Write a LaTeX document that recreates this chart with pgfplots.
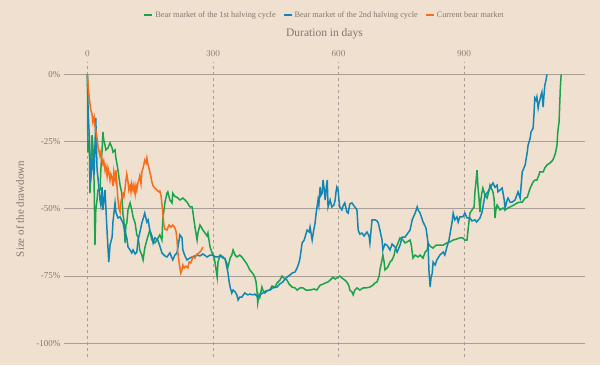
\documentclass[border=0pt]{standalone}
\usepackage{fontspec}
\setmainfont{Liberation Serif}
\usepackage{pgfplots}
\pgfplotsset{compat=1.18}
\definecolor{bg}{RGB}{240,224,208}
\definecolor{gridc}{RGB}{168,158,150}
\definecolor{txt}{RGB}{128,120,112}
\definecolor{cgreen}{RGB}{26,163,74}
\definecolor{cblue}{RGB}{18,134,178}
\definecolor{corange}{RGB}{246,110,28}
\begin{document}
\begin{tikzpicture}[x=1pt,y=1pt]
\fill[bg] (-64,-8) rectangle (536,357);
\useasboundingbox (-64,-8) rectangle (536,357);
\begin{axis}[
  at={(0,0)}, anchor=south west,
  scale only axis, width=521pt, height=295pt,
  xmin=-56, xmax=1189, ymin=-105.1, ymax=4.6,
  axis line style={draw=none},
  major tick length=0pt,
  xtick={0,300,600,900},
  xticklabel pos=upper,
  xticklabel style={font=\fontsize{9}{10}\selectfont, text=txt, yshift=1.5pt},
  ytick={-100,-75,-50,-25,0},
  yticklabels={-100\%,-75\%,-50\%,-25\%,0\%},
  yticklabel style={font=\fontsize{9}{10}\selectfont, text=txt},
  xmajorgrids, ymajorgrids,
  x grid style={gridc, line width=0.7pt, dash pattern=on 3pt off 3pt},
  y grid style={gridc, line width=0.8pt},
  legend columns=3,
  legend style={at={(axis description cs:0.5,1)}, anchor=center, yshift=47pt,
    draw=none, fill=none, font=\fontsize{8.3}{9}\selectfont, text=txt,
    /tikz/every even column/.append style={column sep=5pt}},
  legend image code/.code={\draw[#1, line width=2pt] (0pt,0pt) -- (8pt,0pt);},
  legend cell align=left,
]
\addplot[cgreen, line width=1.5pt] coordinates {
(0,0) (1,-28.9) (2,-24.4) (5,-30.7) (6,-44.2) (8,-37.4) (11,-22.6) (13,-26.3) (16,-40.4)
(18,-63.5) (20,-50.4) (23,-46.7) (25,-43.0) (30,-43.0) (32,-35.6) (35,-28.1) (37,-21.4)
(39,-24.4) (42,-26.3) (44,-28.1) (49,-27.4) (54,-25.5) (59,-27.4) (61,-28.9) (66,-28.1)
(68,-31.1) (71,-33.7) (73,-35.6) (78,-41.2) (82,-44.2) (85,-52.3) (87,-54.1) (90,-62.7)
(92,-56.0) (94,-55.3) (97,-50.4) (102,-47.8) (106,-50.4) (109,-53.0) (114,-55.3) (118,-59.7)
(121,-60.5) (125,-65.3) (130,-67.2) (133,-69.0) (137,-64.6) (142,-61.6) (149,-57.9) (154,-61.6)
(161,-62.7) (166,-61.6) (173,-59.7) (178,-61.6) (180,-54.1) (185,-47.8) (190,-44.2) (192,-43.7)
(197,-46.7) (202,-47.8) (204,-44.2) (209,-45.4) (214,-45.7) (221,-46.7) (228,-46.0) (233,-46.7)
(238,-47.5) (245,-49.3) (250,-49.3) (252,-51.2) (257,-56.8) (262,-61.6) (264,-59.0) (269,-56.0)
(276,-57.9) (286,-60.1) (288,-59.0) (293,-64.2) (298,-66.4) (303,-68.3) (305,-70.1) (310,-75.4)
(312,-69.8) (317,-67.2) (321,-67.5) (329,-68.6) (336,-71.6) (341,-68.3) (345,-67.2) (348,-65.3)
(353,-67.2) (357,-67.9) (364,-67.2) (369,-67.9) (376,-69.4) (381,-70.5) (388,-72.7) (396,-74.2)
(400,-75.4) (403,-77.2) (405,-80.2) (407,-85.0) (410,-82.0) (412,-82.8) (417,-79.1) (419,-80.2)
(424,-81.3) (429,-80.5) (436,-80.2) (441,-78.7) (448,-79.1) (453,-77.6) (458,-76.8) (460,-76.5)
(465,-75.0) (467,-75.4) (472,-76.1) (477,-76.5) (482,-78.0) (489,-79.1) (496,-79.4) (501,-80.2)
(508,-79.4) (515,-79.4) (522,-80.2) (532,-80.2) (542,-79.8) (548,-80.2) (556,-78.4) (563,-78.0)
(568,-77.6) (575,-77.2) (580,-76.5) (587,-75.4) (592,-76.1) (596,-75.7) (603,-75.0) (608,-75.7)
(615,-76.5) (620,-77.2) (625,-78.7) (627,-80.2) (632,-80.9) (635,-82.0) (639,-80.2) (644,-79.4)
(651,-80.2) (659,-79.4) (666,-79.4) (675,-79.1) (682,-78.4) (687,-77.6) (692,-77.2) (697,-75.0)
(699,-72.7) (704,-69.0) (706,-67.2) (709,-69.8) (711,-72.7) (716,-72.0) (718,-71.6) (723,-69.8)
(728,-69.0) (733,-67.2) (735,-65.3) (740,-63.5) (747,-60.8) (754,-61.6) (759,-62.7) (764,-62.3)
(771,-61.6) (774,-63.5) (776,-66.1) (778,-68.3) (783,-67.2) (790,-67.9) (795,-67.2) (802,-68.3)
(807,-66.1) (812,-65.3) (814,-62.7) (819,-63.9) (826,-64.6) (833,-63.5) (842,-63.5) (850,-63.5)
(859,-62.7) (866,-62.3) (874,-61.6) (883,-61.2) (890,-60.8) (897,-60.8) (902,-61.6) (907,-61.6)
(909,-58.6) (914,-51.6) (919,-50.4) (924,-49.3) (926,-43.7) (929,-39.3) (931,-35.6) (933,-41.2)
(936,-46.7) (938,-51.2) (940,-46.7) (943,-43.7) (945,-42.3) (950,-44.9) (955,-46.0) (960,-43.0)
(962,-41.2) (967,-43.0) (969,-43.7) (972,-46.7) (974,-53.4) (976,-50.4) (979,-48.6) (986,-50.4)
(993,-49.7) (998,-50.4) (1005,-49.7) (1010,-49.3) (1019,-48.6) (1027,-47.8) (1034,-47.5) (1039,-47.5)
(1046,-46.0) (1051,-45.7) (1055,-43.7) (1058,-42.3) (1063,-40.7) (1065,-40.0) (1069,-39.3) (1074,-39.3)
(1079,-37.4) (1081,-36.3) (1089,-36.3) (1093,-34.8) (1098,-33.7) (1105,-33.0) (1112,-31.9) (1117,-30.0)
(1120,-28.1) (1122,-26.3) (1124,-21.4) (1127,-17.7) (1129,-9.6) (1130,-5.1) (1132,0)
};
\addlegendentry{Bear market of the 1st halving cycle}
\addplot[cblue, line width=1.5pt] coordinates {
(0,0) (1,-9.6) (2,-15.1) (4,-21.4) (6,-30.0) (7,-40.4) (10,-35.6) (13,-31.9) (16,-37.4) (20,-16.2)
(23,-35.6) (25,-38.2) (30,-46.7) (32,-48.6) (35,-41.9) (37,-50.4) (42,-43.0) (47,-58.6) (51,-69.8)
(54,-63.5) (59,-60.5) (61,-54.9) (66,-47.8) (68,-51.2) (73,-53.4) (78,-53.0) (85,-55.3) (90,-58.6)
(94,-60.8) (97,-64.2) (102,-65.3) (106,-66.4) (109,-65.3) (114,-66.8) (118,-66.1) (121,-61.6)
(125,-59.0) (130,-55.3) (135,-52.7) (137,-51.6) (142,-54.9) (145,-54.1) (149,-57.9) (154,-60.1)
(157,-62.7) (161,-60.8) (168,-61.6) (173,-63.8) (178,-66.4) (185,-67.5) (190,-67.9) (197,-66.4)
(204,-69.0) (209,-67.2) (214,-66.4) (219,-61.6) (221,-59.7) (226,-60.8) (228,-65.3) (233,-67.5)
(238,-69.0) (245,-68.3) (250,-67.9) (257,-67.5) (262,-67.2) (269,-67.5) (276,-66.8) (286,-67.9)
(293,-67.2) (300,-67.2) (305,-67.9) (312,-67.9) (317,-67.5) (324,-68.3) (329,-68.6) (333,-71.6)
(336,-73.9) (338,-76.5) (341,-79.1) (345,-81.3) (348,-80.2) (353,-80.9) (357,-82.0) (360,-83.9)
(364,-82.8) (369,-82.8) (376,-81.3) (383,-82.0) (388,-81.7) (396,-82.0) (400,-81.7) (407,-82.8)
(415,-81.7) (419,-81.3) (427,-80.5) (436,-80.2) (443,-79.4) (453,-79.1) (460,-77.9) (467,-77.2)
(472,-76.1) (477,-75.4) (484,-74.6) (489,-73.9) (496,-73.5) (501,-72.0) (506,-69.8) (508,-68.3)
(513,-62.7) (518,-61.6) (520,-60.5) (525,-57.9) (530,-58.6) (532,-56.8) (537,-61.6) (540,-58.6)
(544,-55.3) (546,-52.3) (551,-46.7) (553,-48.6) (556,-41.9) (558,-45.0) (561,-44.2) (563,-39.3)
(566,-43.0) (568,-46.7) (570,-43.0) (573,-39.3) (575,-49.3) (580,-46.7) (584,-49.3) (589,-48.6)
(592,-46.7) (594,-43.7) (596,-41.9) (599,-43.0) (601,-46.7) (603,-49.3) (608,-50.4) (611,-48.9)
(615,-47.8) (620,-51.2) (623,-51.6) (627,-48.2) (632,-47.8) (637,-48.9) (644,-50.4) (647,-57.9)
(651,-59.4) (656,-59.0) (661,-60.1) (668,-58.6) (673,-60.1) (675,-62.7) (680,-54.1) (687,-54.1)
(692,-54.5) (695,-55.3) (699,-57.9) (704,-61.6) (706,-65.3) (711,-63.1) (716,-63.5) (723,-65.3)
(728,-63.1) (735,-64.2) (740,-66.1) (747,-63.5) (752,-60.5) (759,-60.5) (764,-59.4) (771,-57.9)
(776,-54.1) (783,-51.6) (788,-49.3) (790,-50.4) (795,-51.6) (802,-54.9) (809,-57.1) (814,-62.7)
(816,-72.7) (819,-79.1) (821,-75.7) (824,-73.9) (826,-69.8) (831,-70.9) (835,-69.0) (842,-67.2)
(850,-66.1) (854,-67.2) (859,-64.2) (864,-61.6) (866,-59.7) (871,-55.3) (874,-51.6) (878,-54.1)
(883,-53.0) (886,-54.9) (890,-53.0) (897,-53.0) (902,-51.6) (907,-53.4) (914,-53.4) (919,-54.5)
(926,-54.1) (930,-54.9) (938,-53.4) (943,-51.2) (950,-44.9) (957,-43.7) (962,-42.3) (969,-40.4)
(974,-42.0) (979,-41.2) (981,-43.7) (986,-43.0) (991,-42.3) (996,-46.7) (998,-49.7) (1003,-46.7)
(1005,-46.0) (1010,-47.5) (1015,-47.5) (1022,-46.7) (1029,-43.7) (1034,-46.0) (1039,-36.3)
(1043,-34.8) (1046,-33.7) (1051,-28.9) (1053,-26.3) (1058,-23.7) (1060,-21.4) (1065,-20.0)
(1067,-15.1) (1069,-8.8) (1072,-9.6) (1074,-8.4) (1077,-12.5) (1079,-10.7) (1081,-9.6) (1084,-7.7)
(1086,-6.6) (1089,-12.2) (1091,-7.7) (1093,-4.0) (1096,-2.1) (1098,0)
};
\addlegendentry{Bear market of the 2nd halving cycle}
\addplot[corange, line width=1.5pt] coordinates {
(0,0) (2,-5.1) (5,-9.6) (8,-13.3) (11,-14.8) (13,-17.7) (16,-15.9) (18,-19.2) (20,-20.7) (23,-23.7)
(25,-26.7) (27,-28.1) (30,-30.4) (32,-28.9) (35,-31.9) (37,-33.3) (39,-32.2) (42,-35.6) (44,-34.1)
(47,-37.8) (49,-34.8) (51,-36.3) (54,-39.3) (56,-37.1) (59,-38.5) (61,-41.5) (63,-36.3) (66,-39.3)
(68,-35.6) (71,-42.3) (73,-46.7) (75,-49.7) (78,-51.2) (80,-47.5) (82,-46.0) (85,-44.5) (87,-45.6)
(90,-42.3) (92,-39.3) (94,-37.1) (97,-40.0) (99,-43.0) (102,-41.5) (104,-43.7) (106,-40.7) (109,-43.0)
(111,-41.2) (114,-44.5) (116,-41.5) (118,-43.0) (121,-40.0) (123,-39.3) (125,-37.8) (128,-40.7)
(130,-36.3) (133,-34.8) (135,-33.3) (137,-31.9) (140,-33.0) (142,-31.1) (145,-33.7) (147,-34.8)
(149,-36.3) (152,-38.2) (154,-40.0) (157,-41.5) (161,-42.3) (166,-43.0) (171,-43.7) (173,-43.4)
(176,-45.2) (178,-48.2) (180,-51.2) (183,-56.4) (185,-57.5) (190,-57.9) (195,-56.0) (200,-56.8)
(204,-56.0) (209,-57.1) (212,-58.6) (214,-61.6) (216,-66.1) (219,-69.8) (221,-72.0) (223,-73.9)
(226,-72.7) (228,-70.9) (231,-72.0) (235,-71.3) (240,-72.0) (243,-69.8) (247,-70.1) (252,-67.9)
(257,-68.3) (262,-66.8) (267,-66.4) (271,-65.7) (276,-64.2)
};
\addlegendentry{Current bear market}
\end{axis}
\node[text=txt, font=\fontsize{11.5}{13}\selectfont] at (260.5,323) {Duration in days};
\node[text=txt, rotate=90, font=\fontsize{11}{12}\selectfont] at (-44,148) {Size of the drawdown};
\end{tikzpicture}
\end{document}
